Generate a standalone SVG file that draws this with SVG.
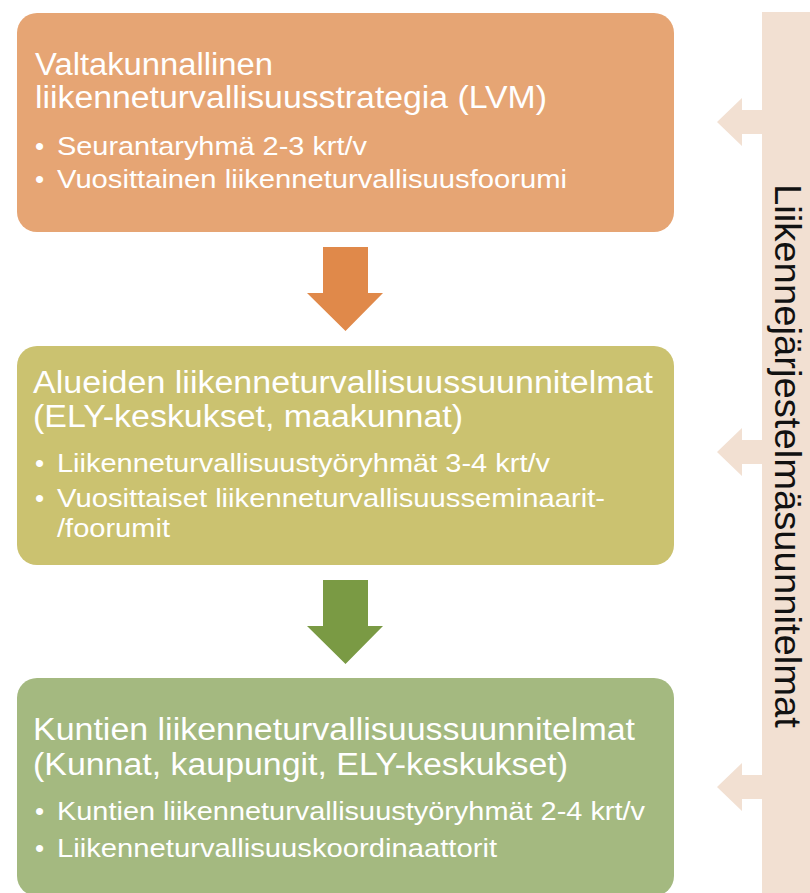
<svg xmlns="http://www.w3.org/2000/svg" width="810" height="893" viewBox="0 0 810 893">
<style>
.t{font-family:"Liberation Sans",Arial,sans-serif;fill:#ffffff;}
.h{font-size:31px;}
.b{font-size:26px;}
.v{font-family:"Liberation Sans",Arial,sans-serif;font-size:37px;fill:#111111;}
</style>
<rect width="810" height="893" fill="#ffffff"/>
<g id="side-bar">
<rect x="762" y="12" width="48" height="881" fill="#F2E0D2"/>
<text class="v" transform="translate(775,184) rotate(90)" textLength="544" lengthAdjust="spacingAndGlyphs">Liikennejärjestelmäsuunnitelmat</text>
</g>
<g id="connectors">
<polygon points="323,247 368,247 368,293 383,293 345.5,331 307,293 323,293" fill="#E0894A"/>
<polygon points="323,580 368,580 368,626 383,626 345.5,664 307,626 323,626" fill="#7A9A44"/>
<polygon points="762,110 742,110 742,98 717,122 742,146 742,134 762,134" fill="#F2E0D2"/>
<polygon points="762,440 742,440 742,428 717,452 742,476 742,464 762,464" fill="#F2E0D2"/>
<polygon points="762,775 742,775 742,763 717,787 742,811 742,799 762,799" fill="#F2E0D2"/>
</g>
<g id="node-national">
<rect x="17" y="13" width="657" height="219" rx="20" fill="#E6A574"/>
<text class="t h" x="35" y="75" textLength="238" lengthAdjust="spacingAndGlyphs">Valtakunnallinen</text>
<text class="t h" x="35" y="108" textLength="512" lengthAdjust="spacingAndGlyphs">liikenneturvallisuusstrategia (LVM)</text>
<text class="t b" x="35" y="155">•</text>
<text class="t b" x="57" y="155" textLength="310" lengthAdjust="spacingAndGlyphs">Seurantaryhmä 2-3 krt/v</text>
<text class="t b" x="35" y="188">•</text>
<text class="t b" x="57" y="188" textLength="510" lengthAdjust="spacingAndGlyphs">Vuosittainen liikenneturvallisuusfoorumi</text>
</g>
<g id="node-regional">
<rect x="17" y="346" width="657" height="219" rx="20" fill="#CBC270"/>
<text class="t h" x="33" y="393" textLength="620" lengthAdjust="spacingAndGlyphs">Alueiden liikenneturvallisuussuunnitelmat</text>
<text class="t h" x="33" y="427" textLength="430" lengthAdjust="spacingAndGlyphs">(ELY-keskukset,  maakunnat)</text>
<text class="t b" x="35" y="472">•</text>
<text class="t b" x="57" y="472" textLength="493" lengthAdjust="spacingAndGlyphs">Liikenneturvallisuustyöryhmät 3-4 krt/v</text>
<text class="t b" x="35" y="507">•</text>
<text class="t b" x="57" y="507" textLength="548" lengthAdjust="spacingAndGlyphs">Vuosittaiset liikenneturvallisuusseminaarit-</text>
<text class="t b" x="57" y="537" textLength="113" lengthAdjust="spacingAndGlyphs">/foorumit</text>
</g>
<g id="node-municipal">
<rect x="17" y="678" width="657" height="218" rx="20" fill="#A4B980"/>
<text class="t h" x="33" y="740" textLength="602" lengthAdjust="spacingAndGlyphs">Kuntien liikenneturvallisuussuunnitelmat</text>
<text class="t h" x="33" y="775" textLength="535" lengthAdjust="spacingAndGlyphs">(Kunnat, kaupungit, ELY-keskukset)</text>
<text class="t b" x="35" y="820">•</text>
<text class="t b" x="57" y="820" textLength="588" lengthAdjust="spacingAndGlyphs">Kuntien liikenneturvallisuustyöryhmät 2-4 krt/v</text>
<text class="t b" x="35" y="857">•</text>
<text class="t b" x="57" y="857" textLength="440" lengthAdjust="spacingAndGlyphs">Liikenneturvallisuuskoordinaattorit</text>
</g>
</svg>
